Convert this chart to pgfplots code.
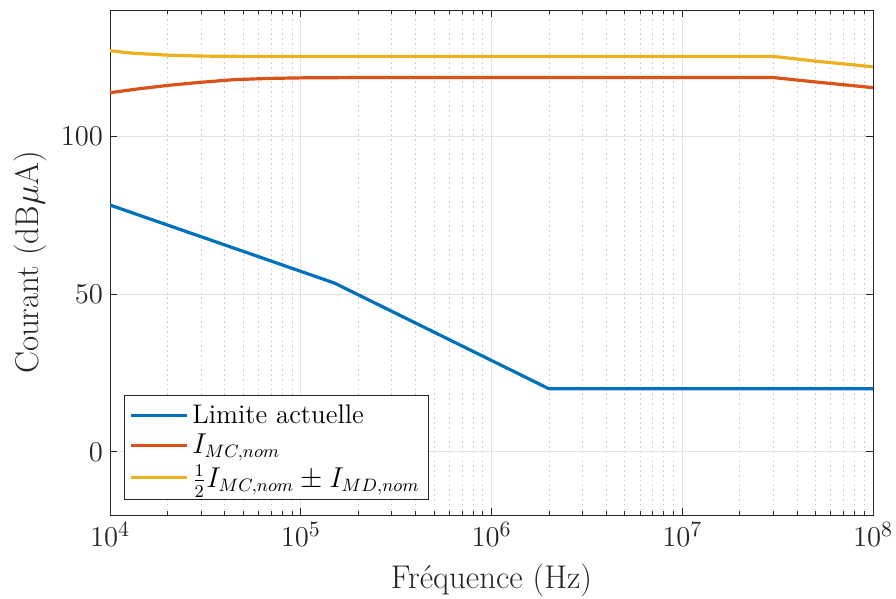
\documentclass[border=0pt]{standalone}
\usepackage{pgfplots}
\pgfplotsset{compat=1.18}
\definecolor{mblue}{rgb}{0,0.447,0.741}
\definecolor{morange}{rgb}{0.85,0.325,0.098}
\definecolor{myellow}{rgb}{0.929,0.694,0.125}
\definecolor{axgray}{rgb}{0.15,0.15,0.15}
\begin{document}
\begin{tikzpicture}
\begin{axis}[
  scale only axis,
  width=381.5bp, height=252.5bp,
  xmode=log,
  xmin=1e4, xmax=1e8,
  ymin=-20, ymax=140,
  ytick={0,50,100},
  xtick={1e4,1e5,1e6,1e7,1e8},
  axis line style={axgray, line width=0.4bp},
  tick style={axgray, line width=0.4bp},
  major tick length=3.5bp,
  minor tick length=2bp,
  tick align=inside,
  grid=major,
  xminorgrids=true,
  major grid style={gray!22, line width=0.4bp},
  minor grid style={gray!40, dash pattern=on 0.8bp off 1.6bp, line width=0.4bp},
  tick label style={font=\fontsize{15}{18}\selectfont, axgray},
  xlabel={Fréquence (Hz)},
  ylabel={Courant (dB$\mu$A)},
  every axis x label/.style={at={(axis description cs:0.5,-0.129)}, anchor=center, font=\fontsize{16.5}{20}\selectfont, axgray},
  every axis y label/.style={at={(axis description cs:-0.105,0.5)}, rotate=90, anchor=center, font=\fontsize{16.5}{20}\selectfont, axgray},
  legend style={at={(axis description cs:0.018,0.03)}, anchor=south west,
    font=\fontsize{13.5}{16}\selectfont, draw=axgray, fill=white, line width=0.4bp,
    cells={anchor=west}, inner xsep=2.5bp, inner ysep=2.5bp, row sep=0bp},
  legend image code/.code={\draw[#1] (0bp,0bp) -- (28bp,0bp);},
  every axis plot/.append style={line width=1.6bp},
]
\addplot[mblue] coordinates {
  (1e4,78.2) (1.5e5,53.5) (2e6,20) (1e8,20)
};
\addlegendentry{Limite actuelle}
\addplot[morange] coordinates {
  (1e4,113.8) (1.4e4,115.0) (2e4,116.1) (3e4,117.1) (4.4e4,117.9) (6.6e4,118.3)
  (1e5,118.5) (2e5,118.6) (3e7,118.6) (5e7,117.2) (1e8,115.4)
};
\addlegendentry{$I_{MC,nom}$}
\addplot[myellow] coordinates {
  (1e4,127.1) (1.32e4,126.3) (2e4,125.7) (3e4,125.4) (5e4,125.3) (3e7,125.3)
  (5e7,123.8) (1e8,122.0)
};
\addlegendentry{$\frac{1}{2}I_{MC,nom}\pm I_{MD,nom}$}
\end{axis}
\pgfresetboundingbox
\path ([xshift=-55bp,yshift=-42bp]current axis.south west) rectangle ([xshift=11.5bp,yshift=5bp]current axis.north east);
\end{tikzpicture}
\end{document}
